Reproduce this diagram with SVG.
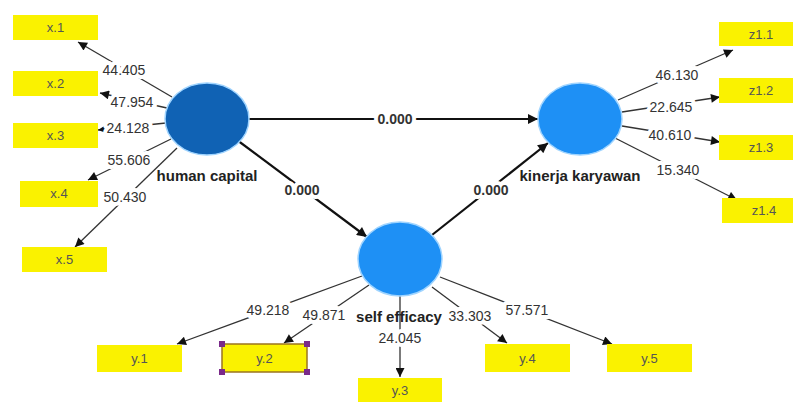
<svg xmlns="http://www.w3.org/2000/svg" width="793" height="402" viewBox="0 0 793 402">
<style>
  .box{fill:#FAF200;}
  .bt{font-family:"Liberation Sans",Arial,sans-serif;font-size:13px;fill:#555;text-anchor:middle;}
  .ld{stroke:#333;stroke-width:1.3;fill:none;marker-end:url(#ah);}
  .st{stroke:#111;stroke-width:2.2;fill:none;marker-end:url(#ahb);}
  .lv{font-family:"Liberation Sans",Arial,sans-serif;font-size:14px;fill:#333;text-anchor:middle;stroke:#fff;stroke-width:8;paint-order:stroke;stroke-linejoin:round;}
  .sv{font-family:"Liberation Sans",Arial,sans-serif;font-size:14px;font-weight:bold;fill:#333;text-anchor:middle;stroke:#fff;stroke-width:8;paint-order:stroke;stroke-linejoin:round;}
  .nl{font-family:"Liberation Sans",Arial,sans-serif;font-size:15px;font-weight:bold;fill:#222;text-anchor:middle;}
  .lat{fill:#1E90F5;stroke:#9fd4ff;stroke-width:1.5;}
</style>
<defs>
  <marker id="ah" viewBox="0 0 10 10" refX="10" refY="5" markerWidth="11" markerHeight="9" markerUnits="userSpaceOnUse" orient="auto">
    <path d="M0,0 L10,5 L0,10 z" fill="#111"/>
  </marker>
  <marker id="ahb" viewBox="0 0 10 10" refX="10" refY="5" markerWidth="13" markerHeight="10" markerUnits="userSpaceOnUse" orient="auto">
    <path d="M0,0 L10,5 L0,10 z" fill="#111"/>
  </marker>
</defs>
<rect width="793" height="402" fill="#fff"/>

<g id="connectors">
  <line class="ld" x1="172" y1="97" x2="78" y2="42"/>
  <line class="ld" x1="167" y1="108" x2="100" y2="93"/>
  <line class="ld" x1="166" y1="123" x2="98" y2="130"/>
  <line class="ld" x1="171" y1="139" x2="88" y2="180"/>
  <line class="ld" x1="177" y1="148" x2="75" y2="247"/>
  <line class="ld" x1="618" y1="100" x2="733" y2="50"/>
  <line class="ld" x1="622" y1="112" x2="720" y2="97"/>
  <line class="ld" x1="622" y1="126" x2="720" y2="142"/>
  <line class="ld" x1="615" y1="138" x2="737" y2="200"/>
  <line class="ld" x1="362" y1="276" x2="177" y2="344"/>
  <line class="ld" x1="369" y1="285" x2="284" y2="343"/>
  <line class="ld" x1="400" y1="296" x2="400" y2="377"/>
  <line class="ld" x1="432" y1="287" x2="507" y2="343"/>
  <line class="ld" x1="440" y1="277" x2="612" y2="344"/>
  <line class="st" x1="249" y1="119" x2="538" y2="119"/>
  <line class="st" x1="237" y1="140" x2="367" y2="237"/>
  <line class="st" x1="432" y1="235" x2="548" y2="143"/>
  <text class="lv" x="124" y="75">44.405</text>
  <text class="lv" x="132" y="107">47.954</text>
  <text class="lv" x="128" y="133">24.128</text>
  <text class="lv" x="129" y="165">55.606</text>
  <text class="lv" x="125" y="202">50.430</text>
  <text class="lv" x="677" y="80">46.130</text>
  <text class="lv" x="671" y="112">22.645</text>
  <text class="lv" x="670" y="140">40.610</text>
  <text class="lv" x="678" y="175">15.340</text>
  <text class="lv" x="268" y="315">49.218</text>
  <text class="lv" x="324" y="320">49.871</text>
  <text class="lv" x="400" y="343">24.045</text>
  <text class="lv" x="470" y="321">33.303</text>
  <text class="lv" x="527" y="315">57.571</text>
  <text class="sv" x="395" y="124">0.000</text>
  <text class="sv" x="302" y="195">0.000</text>
  <text class="sv" x="491" y="195">0.000</text>
</g>

<g id="human-capital">
  <ellipse cx="207" cy="119" rx="42" ry="36" fill="#1062B4" stroke="#9fd4ff" stroke-width="1.5"/>
  <text class="nl" x="207" y="181">human capital</text>
</g>
<g id="kinerja-karyawan">
  <ellipse class="lat" cx="580" cy="119" rx="42" ry="36"/>
  <text class="nl" x="580" y="181">kinerja karyawan</text>
</g>
<g id="self-efficacy">
  <ellipse class="lat" cx="400" cy="259" rx="42" ry="37"/>
  <text class="nl" x="399" y="322">self efficacy</text>
</g>

<g id="x1"><rect class="box" x="13" y="15" width="85" height="25"/><text class="bt" x="55.5" y="32">x.1</text></g>
<g id="x2"><rect class="box" x="13" y="71" width="85" height="25"/><text class="bt" x="55.5" y="88">x.2</text></g>
<g id="x3"><rect class="box" x="13" y="123" width="85" height="25"/><text class="bt" x="55.5" y="140">x.3</text></g>
<g id="x4"><rect class="box" x="20" y="181" width="78" height="26"/><text class="bt" x="59" y="198">x.4</text></g>
<g id="x5"><rect class="box" x="22" y="247" width="85" height="25"/><text class="bt" x="64.5" y="264">x.5</text></g>

<g id="z11"><rect class="box" x="719" y="22" width="85" height="24"/><text class="bt" x="761" y="39">z1.1</text></g>
<g id="z12"><rect class="box" x="719" y="78" width="85" height="25"/><text class="bt" x="761" y="95">z1.2</text></g>
<g id="z13"><rect class="box" x="719" y="135" width="85" height="25"/><text class="bt" x="761" y="152">z1.3</text></g>
<g id="z14"><rect class="box" x="722" y="198" width="85" height="25"/><text class="bt" x="764" y="215">z1.4</text></g>

<g id="y1"><rect class="box" x="97" y="345" width="85" height="27"/><text class="bt" x="139.5" y="363">y.1</text></g>
<g id="y2">
  <rect class="box" x="222" y="344" width="85" height="28" stroke="#9A7420" stroke-width="1.5"/>
  <text class="bt" x="264.5" y="363">y.2</text>
  <g fill="#7A2A8A">
    <rect x="219" y="341" width="6" height="6"/>
    <rect x="304" y="341" width="6" height="6"/>
    <rect x="219" y="369" width="6" height="6"/>
    <rect x="304" y="369" width="6" height="6"/>
  </g>
</g>
<g id="y3"><rect class="box" x="358" y="378" width="84" height="24"/><text class="bt" x="400" y="395">y.3</text></g>
<g id="y4"><rect class="box" x="485" y="344" width="85" height="28"/><text class="bt" x="527.5" y="363">y.4</text></g>
<g id="y5"><rect class="box" x="607" y="344" width="85" height="28"/><text class="bt" x="649.5" y="363">y.5</text></g>
</svg>
